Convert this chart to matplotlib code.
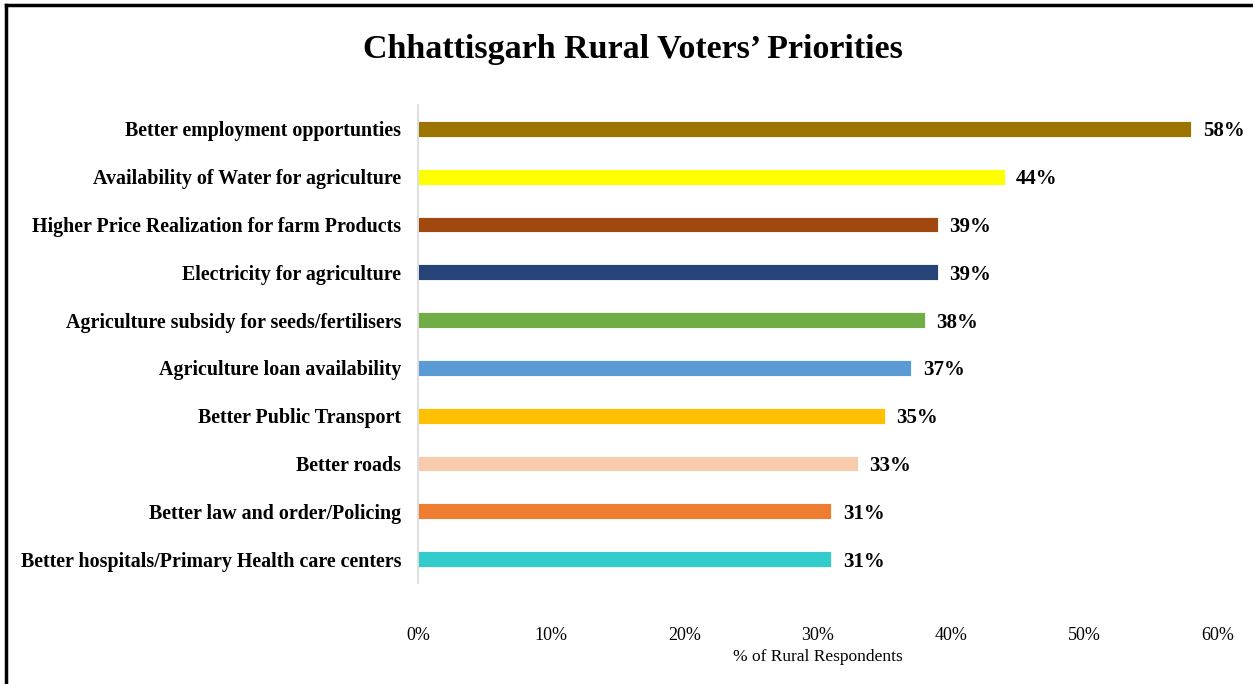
import matplotlib.pyplot as plt
from matplotlib.lines import Line2D

# данные с графика (сверху вниз)
categories = [
    "Better employment opportunties",
    "Availability of Water for agriculture",
    "Higher Price Realization for farm Products",
    "Electricity for agriculture",
    "Agriculture subsidy for seeds/fertilisers",
    "Agriculture loan availability",
    "Better Public Transport",
    "Better roads",
    "Better law and order/Policing",
    "Better hospitals/Primary Health care centers",
]
values = [58, 44, 39, 39, 38, 37, 35, 33, 31, 31]
colors = ["#9C7500", "#FFFF00", "#A0480E", "#264478", "#70AD47",
          "#5B9BD5", "#FFC000", "#F8CBAD", "#ED7D31", "#33CCCC"]
xticks = [0, 10, 20, 30, 40, 50, 60]

plt.rcParams['font.family'] = ['Liberation Serif', 'DejaVu Serif']

fig = plt.figure(figsize=(12.53, 6.84), dpi=100)
ax = fig.add_axes([0.3336, 0.1477, 0.6385, 0.6988])

pos = list(range(len(categories)))[::-1]
ax.barh(pos, values, height=0.33, color=colors, edgecolor='white', linewidth=0.6)

for p, v in zip(pos, values):
    ax.text(v + 0.85, p, f"{v}%", va='center_baseline', ha='left',
            fontsize=15, fontweight='bold')

ax.set_xlim(0, 60)
ax.set_ylim(-0.5, 9.5)
ax.set_yticks(pos)
ax.set_yticklabels(categories, fontsize=14.4, fontweight='bold')
ax.set_xticks(xticks)
ax.set_xticklabels([f"{t}%" for t in xticks], fontsize=13)
ax.tick_params(axis='both', length=0)
ax.tick_params(axis='y', pad=12)
ax.tick_params(axis='x', pad=32)
for s in ['top', 'right', 'bottom']:
    ax.spines[s].set_visible(False)
ax.spines['left'].set_color('#D9D9D9')
ax.spines['left'].set_linewidth(1.2)

ax.set_xlabel("% of Rural Respondents", fontsize=12.5, labelpad=3)

fig.text(0.505, 0.927, "Chhattisgarh Rural Voters\u2019 Priorities",
         ha='center', va='center', fontsize=24.5, fontweight='bold')

# рамка слева и сверху
fig.add_artist(Line2D([0.005, 0.005], [0, 0.993], color='black', lw=2.5,
                      transform=fig.transFigure))
fig.add_artist(Line2D([0.005, 1.0], [0.993, 0.993], color='black', lw=2.5,
                      transform=fig.transFigure))

fig.savefig("out.png", dpi=100)
